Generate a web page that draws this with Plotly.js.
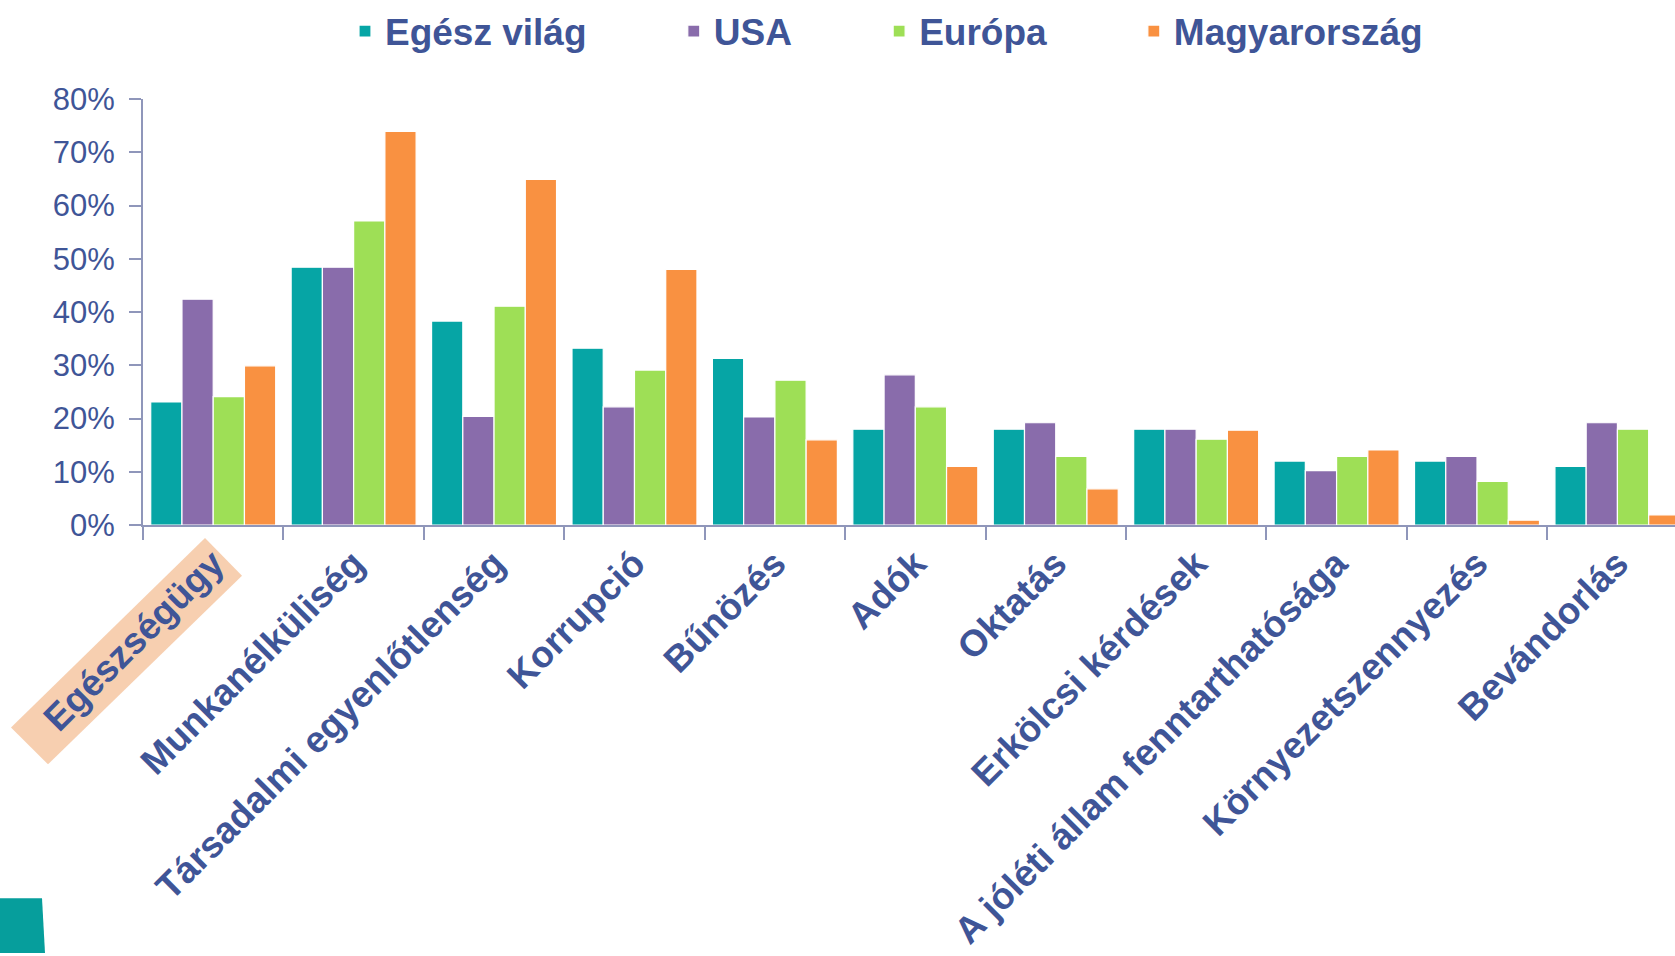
<!DOCTYPE html>
<html>
<head>
<meta charset="utf-8">
<script src="https://cdn.plot.ly/plotly-3.0.1.min.js"></script>
<style>
  html, body { margin: 0; padding: 0; overflow: hidden; background: #fff; }
</style>
</head>
<body>
<div id="viz"></div>
<script>
// categories (Hungarian survey topics) and the four series, in percent
const categories = [
	'Egészségügy',
	'Munkanélküliség',
	'Társadalmi egyenlőtlenség',
	'Korrupció',
	'Bűnözés',
	'Adók',
	'Oktatás',
	'Erkölcsi kérdések',
	'A jóléti állam fenntarthatósága',
	'Környezetszennyezés',
	'Bevándorlás'
];
const seriesNames = ['Egész világ', 'USA', 'Európa', 'Magyarország'];
const egeszVilag = [23.1, 48.4, 38.3, 33.2, 31.3, 18.0, 18.0, 18.0, 12.0, 12.0, 11.0];
const usa = [42.4, 48.4, 20.4, 22.2, 20.3, 28.2, 19.2, 18.0, 10.2, 12.9, 19.2];
const europa = [24.1, 57.1, 41.1, 29.1, 27.2, 22.2, 12.9, 16.1, 12.9, 8.2, 18.0];
const magyarorszag = [29.9, 73.9, 64.9, 48.0, 16.0, 11.0, 6.8, 17.8, 14.1, 0.9, 1.9];
const yTicks = [0, 10, 20, 30, 40, 50, 60, 70, 80];
const yTickText = yTicks.map(v => v + '%');

const colors = ['#06A5A5', '#896CAB', '#9EDF56', '#F99141'];
const navy = '#3F5597';
const axisGrey = '#8F96BA';
const font = 'Liberation Sans, Arial, sans-serif';

const W = 1675, H = 956;
const M = { l: 143, r: 0, t: 96, b: 431 };
const pw = W - M.l - M.r, ph = H - M.t - M.b;
// pixel -> paper helpers for the decorations
const px = x => (x - M.l) / pw;
const py = y => (H - M.b - y) / ph;

// legend spacing: pad names with no-break spaces
const pad = '\u00a0'.repeat(8);

const values = [egeszVilag, usa, europa, magyarorszag];
const data = values.map((v, i) => ({
	type: 'bar',
	x: categories,
	y: v,
	name: i < 3 ? seriesNames[i] + pad : seriesNames[i],
	marker: { color: colors[i], line: { color: '#ffffff', width: 1.2 } },
	hoverinfo: 'x+y+name'
}));

// peach highlight behind the first label, slide teal corner piece
const hl = [[11, 729], [48, 766], [242, 576], [205, 538]];
const hlPath = 'M' + hl.map(p => px(p[0]) + ',' + py(p[1])).join('L') + 'Z';
const corner = [[0, 901], [42, 901], [45, 956], [0, 956]];
const cornerPath = 'M' + corner.map(p => px(p[0]) + ',' + py(p[1])).join('L') + 'Z';

const layout = {
	width: W,
	height: H,
	margin: M,
	paper_bgcolor: '#ffffff',
	plot_bgcolor: '#ffffff',
	font: { family: font, color: navy },
	barmode: 'group',
	bargap: 0.11,
	bargroupgap: 0,
	showlegend: true,
	legend: {
		orientation: 'h',
		x: px(345),
		xanchor: 'left',
		y: py(28),
		yanchor: 'middle',
		font: { family: font, size: 37, weight: 'bold', color: navy },
		itemwidth: 30,
		tracegroupgap: 0
	},
	xaxis: {
		type: 'category',
		range: [-0.5, 10.41],
		showline: true,
		linecolor: axisGrey,
		linewidth: 2,
		ticks: 'outside',
		tickson: 'boundaries',
		ticklen: 13,
		tickwidth: 2,
		tickcolor: axisGrey,
		tickangle: -45,
		tickfont: { family: font, size: 37, weight: 'bold', color: navy },
		showgrid: false,
		zeroline: false
	},
	yaxis: {
		range: [0, 80],
		tickmode: 'array',
		tickvals: yTicks,
		ticktext: yTickText,
		showline: true,
		linecolor: axisGrey,
		linewidth: 2,
		ticks: 'outside',
		ticklen: 12,
		tickwidth: 2,
		tickcolor: axisGrey,
		ticklabelstandoff: 8,
		tickfont: { family: font, size: 31, color: navy },
		showgrid: false,
		zeroline: false
	},
	shapes: [
		{ type: 'path', xref: 'paper', yref: 'paper', path: hlPath, fillcolor: '#F7CFB0', line: { width: 0 }, layer: 'below' },
		{ type: 'path', xref: 'paper', yref: 'paper', path: cornerPath, fillcolor: '#069E9C', line: { width: 0 }, layer: 'above' }
	]
};

Plotly.newPlot('viz', data, layout, { displayModeBar: false, staticPlot: true });
</script>
</body>
</html>
